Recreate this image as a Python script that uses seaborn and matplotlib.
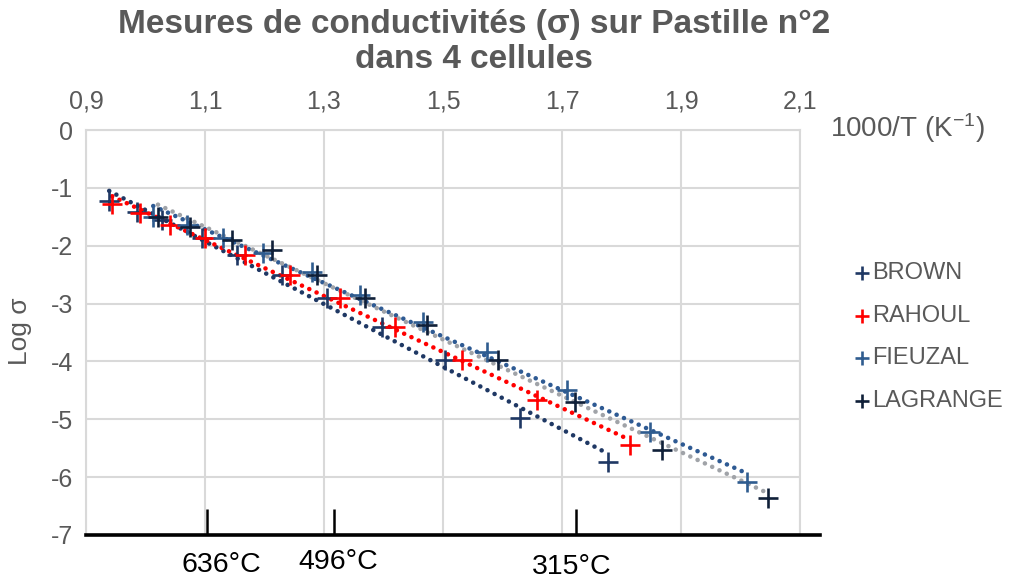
import numpy as np
import pandas as pd
import matplotlib
matplotlib.use("Agg")
import matplotlib.pyplot as plt
import seaborn as sns

# ---------------- data ----------------
series_names = ["BROWN", "RAHOUL", "FIEUZAL", "LAGRANGE"]

brown_x = [0.939, 0.986, 1.028, 1.095, 1.154, 1.229, 1.305, 1.398, 1.503, 1.629, 1.777]
brown_y = [-1.23, -1.42, -1.55, -1.87, -2.16, -2.50, -2.90, -3.40, -3.97, -4.97, -5.73]

rahoul_x = [0.944, 0.991, 1.041, 1.100, 1.167, 1.243, 1.327, 1.419, 1.532, 1.658, 1.814]
rahoul_y = [-1.28, -1.43, -1.64, -1.87, -2.16, -2.50, -2.90, -3.40, -3.97, -4.66, -5.44]

fieuzal_x = [1.013, 1.070, 1.130, 1.198, 1.280, 1.361, 1.466, 1.574, 1.708, 1.848, 2.011]
fieuzal_y = [-1.50, -1.64, -1.87, -2.12, -2.45, -2.85, -3.32, -3.83, -4.49, -5.22, -6.08]

lagrange_x = [1.021, 1.075, 1.145, 1.213, 1.288, 1.369, 1.473, 1.592, 1.722, 1.868, 2.046]
lagrange_y = [-1.50, -1.68, -1.90, -2.07, -2.50, -2.90, -3.37, -3.97, -4.70, -5.53, -6.36]

x_ticks = [0.9, 1.1, 1.3, 1.5, 1.7, 1.9, 2.1]
x_tick_labels = ["0,9", "1,1", "1,3", "1,5", "1,7", "1,9", "2,1"]
y_ticks = [0, -1, -2, -3, -4, -5, -6, -7]
y_tick_labels = ["0", "-1", "-2", "-3", "-4", "-5", "-6", "-7"]

temp_tick_pos = [1.103, 1.316, 1.724]
temp_labels = ["636°C", "496°C", "315°C"]
temp_label_x = [1.127, 1.324, 1.717]
temp_label_y = [-0.074, -0.067, -0.080]

marker_colors = ["#1F3864", "#FF0000", "#2F5C8F", "#0F1F38"]
line_colors = ["#1F3864", "#FF0000", "#2E5A93", "#A0A3A8"]

xs = [brown_x, rahoul_x, fieuzal_x, lagrange_x]
ys = [brown_y, rahoul_y, fieuzal_y, lagrange_y]

# ---------------- style ----------------
sns.set_theme(style="white")
plt.rcParams["font.family"] = ["Liberation Sans", "DejaVu Sans"]
plt.rcParams["mathtext.fontset"] = "custom"
plt.rcParams["mathtext.rm"] = "Liberation Sans"
plt.rcParams["mathtext.it"] = "Liberation Sans"
plt.rcParams["mathtext.default"] = "regular"
TXT = "#595959"

fig = plt.figure(figsize=(10.09, 5.8), dpi=100)
ax = fig.add_axes([86 / 1009, 1 - 535 / 580, 714 / 1009, 405 / 580])

# trendlines
for name, x, y, lc in zip(series_names, xs, ys, line_colors):
    df = pd.DataFrame({"x": x, "y": y})
    sns.regplot(data=df, x="x", y="y", ax=ax, scatter=False, ci=None, truncate=True,
                line_kws=dict(color=lc, lw=3.3, ls=(0, (0.01, 1.75)),
                              dash_capstyle="round", zorder=3))

# markers
for name, x, y, mc in zip(series_names, xs, ys, marker_colors):
    df = pd.DataFrame({"x": x, "y": y})
    sns.scatterplot(data=df, x="x", y="y", ax=ax, marker="+", s=220,
                    color=mc, linewidth=1.9, label=name, zorder=4, legend=False)

ax.set_xlim(0.9, 2.1)
ax.set_ylim(-7, 0)
ax.set_xlabel("")
ax.set_ylabel("")
ax.xaxis.tick_top()
ax.set_xticks(x_ticks)
ax.set_xticklabels(x_tick_labels)
ax.set_yticks(y_ticks)
ax.set_yticklabels(y_tick_labels)
ax.tick_params(axis="x", length=0, pad=12, labelsize=18, labelcolor=TXT)
ax.tick_params(axis="y", length=0, pad=9.5, labelsize=18, labelcolor=TXT)
ax.grid(True, color="#D9D9D9", lw=1.5)
ax.set_axisbelow(True)
for s in ["top", "left", "right"]:
    ax.spines[s].set_color("#D9D9D9")
    ax.spines[s].set_linewidth(1.5)
ax.spines["bottom"].set_color("black")
ax.spines["bottom"].set_linewidth(2.6)
ax.spines["bottom"].set_bounds(0.9, 2.134)
ax.spines["bottom"].set_zorder(5)

# temperature ticks on bottom
sec = ax.secondary_xaxis("bottom")
sec.set_xticks(temp_tick_pos)
sec.set_xticklabels([])
sec.tick_params(direction="in", length=19, width=1.8, color="black")
sec.spines["bottom"].set_visible(False)
for tx, ty, lab in zip(temp_label_x, temp_label_y, temp_labels):
    ax.text(tx, ty, lab, transform=ax.get_xaxis_transform(), ha="center", va="center",
            fontsize=20.5, color="black", clip_on=False)

# titles / labels
fig.text(474 / 1009, 1 - 42 / 580, "Mesures de conductivités (σ) sur Pastille n°2\ndans 4 cellules",
         ha="center", va="center", fontsize=24, weight="bold", color=TXT, linespacing=1.2)
fig.text(20 / 1009, 1 - 331 / 580, "Log σ", rotation=90, ha="center", va="center",
         fontsize=19, color=TXT)
fig.text(830 / 1009, 1 - 128 / 580, "1000/T (K$^{-1}$)", ha="left", va="center",
         fontsize=20, color=TXT)

# legend
handles, labels = ax.get_legend_handles_labels()
fig.legend(handles, labels, loc="center left", bbox_to_anchor=(834 / 1009, 1 - 337 / 580),
           frameon=False, fontsize=17, labelcolor=TXT, handlelength=0.6,
           handletextpad=0.1, labelspacing=0.87, markerscale=0.7)

fig.savefig("out.png", dpi=100)
